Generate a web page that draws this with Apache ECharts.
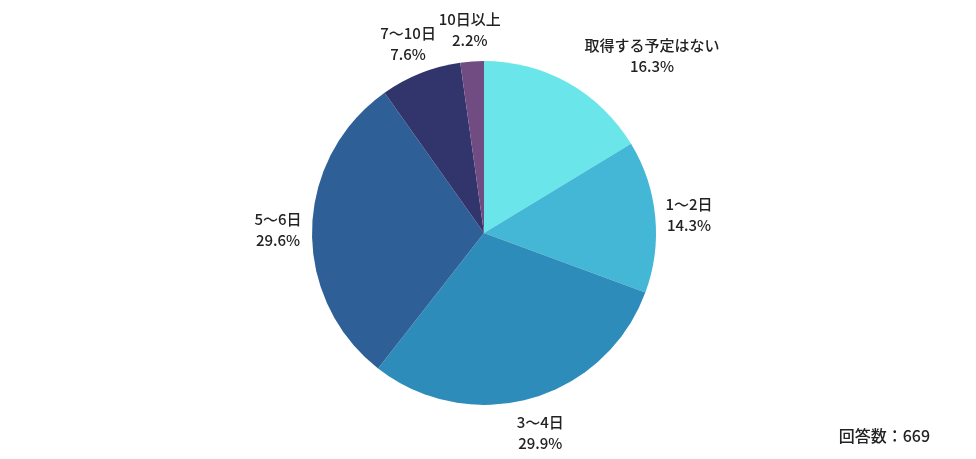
<!DOCTYPE html>
<html lang="ja">
<head>
    <meta charset="utf-8">
    <title>取得予定日数</title>
    <script src="https://cdn.jsdelivr.net/npm/echarts@6/dist/echarts.min.js"></script>
    <style>
        html, body { margin: 0; padding: 0; background: #fff; }
        #main { width: 976px; height: 459px; }
    </style>
</head>
<body>
<div id="main"></div>
<script>
    // 回答の区分と割合(%)
    var categories = ['取得する予定はない', '1〜2日', '3〜4日', '5〜6日', '7〜10日', '10日以上'];
    var percents = [16.3, 14.3, 29.9, 29.6, 7.6, 2.2];
    var colors = ['#6ae5e9', '#44b6d6', '#2e8cba', '#2e5f97', '#32356b', '#714c82'];
    var answerCount = 669;

    var font = '"Noto Sans CJK JP", "Noto Sans", sans-serif';

    var pieData = categories.map(function (name, i) {
        return { name: name, value: percents[i], itemStyle: { color: colors[i] } };
    });

    // ラベル用の透明なリング(ラベルを扇形の外側中央に置くため)
    var labelData = categories.map(function (name, i) {
        var item = { name: name, value: percents[i] };
        if (i === 0) {
            item.label = { offset: [67, 1] };
        }
        return item;
    });

    var myChart = echarts.init(document.getElementById('main'));
    var option = {
        animation: false,
        textStyle: { fontFamily: font },
        title: {
            text: '回答数：' + answerCount,
            right: 41,
            bottom: 10,
            textStyle: { fontFamily: font, fontSize: 16, fontWeight: 500, color: '#222' }
        },
        series: [
            {
                type: 'pie',
                center: [484, 233],
                radius: [0, 172],
                startAngle: 90,
                silent: true,
                label: { show: false },
                labelLine: { show: false },
                data: pieData
            },
            {
                type: 'pie',
                center: [484, 234],
                radius: [172, 234],
                startAngle: 90,
                silent: true,
                itemStyle: { color: 'rgba(0,0,0,0)' },
                label: {
                    show: true,
                    position: 'inside',
                    fontFamily: font,
                    fontSize: 15,
                    fontWeight: 500,
                    lineHeight: 21,
                    color: '#222',
                    align: 'center',
                    offset: [0, 1],
                    formatter: function (p) {
                        return p.name + '\n' + p.value.toFixed(1) + '%';
                    }
                },
                labelLine: { show: false },
                data: labelData
            }
        ]
    };
    myChart.setOption(option);
</script>
</body>
</html>
